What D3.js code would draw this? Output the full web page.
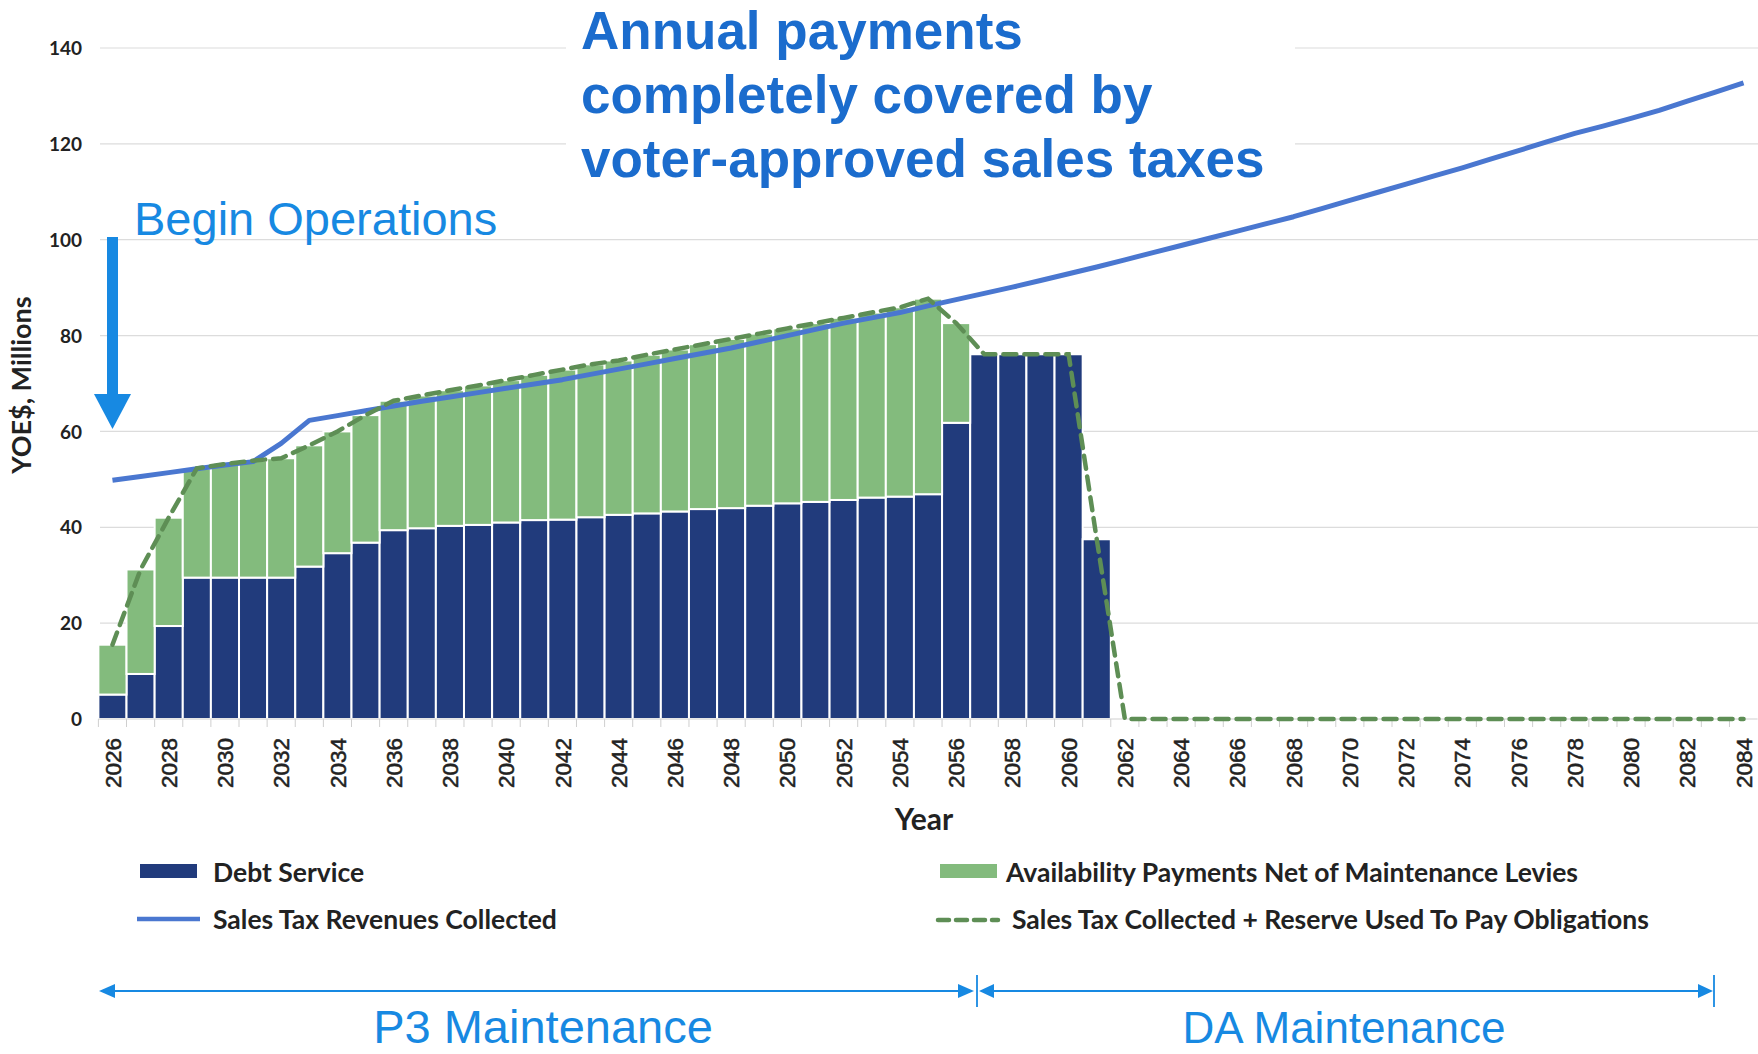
<!DOCTYPE html>
<html>
<head>
<meta charset="utf-8">
<script src="https://cdn.jsdelivr.net/npm/d3@7"></script>
<style>
  html, body { margin: 0; padding: 0; background: #ffffff; }
  svg { display: block; }
</style>
</head>
<body>
<svg id="chart" width="1758" height="1054"></svg>
<script>
// ---------- DATA ----------
const years = d3.range(2026, 2085).map(String);

const debtService = [
  5.1, 9.4, 19.4, 29.5, 29.5, 29.5, 29.5, 31.8, 34.6, 36.8,
  39.4, 39.8, 40.3, 40.5, 41.0, 41.5, 41.6, 42.1, 42.6, 42.9,
  43.3, 43.8, 44.0, 44.5, 45.0, 45.3, 45.7, 46.2, 46.4, 46.9,
  61.8, 76.1, 76.1, 76.1, 76.1, 37.5,
  0, 0, 0, 0, 0, 0, 0, 0, 0, 0, 0, 0, 0, 0, 0, 0, 0, 0, 0, 0, 0, 0, 0
];

const availabilityPayments = [
  10.4, 21.8, 22.6, 22.8, 23.7, 24.4, 24.9, 25.3, 25.4, 26.6,
  27.0, 27.7, 28.3, 29.1, 29.7, 30.3, 31.3, 31.9, 32.2, 33.1,
  33.8, 34.4, 35.3, 35.9, 36.5, 37.3, 38.0, 38.6, 39.5, 40.8,
  20.8, 0, 0, 0, 0, 0,
  0, 0, 0, 0, 0, 0, 0, 0, 0, 0, 0, 0, 0, 0, 0, 0, 0, 0, 0, 0, 0, 0, 0
];

const salesTaxRevenues = [
  49.8, 50.6, 51.4, 52.2, 53.0, 53.7, 57.5, 62.3, 63.3, 64.3,
  65.3, 66.3, 67.2, 68.1, 69.0, 69.9, 70.8, 71.9, 73.0, 74.1,
  75.2, 76.3, 77.4, 78.7, 80.0, 81.3, 82.6, 83.7, 84.8, 86.2,
  87.5, 88.8, 90.1, 91.5, 92.9, 94.3, 95.8, 97.3, 98.8, 100.3,
  101.8, 103.3, 104.8, 106.5, 108.2, 109.9, 111.6, 113.3, 115.0, 116.8,
  118.6, 120.4, 122.2, 123.7, 125.3, 127.0, 128.9, 130.8, 132.7
];

const taxPlusReserve = [
  15.5, 31.2, 42.0, 52.3, 53.2, 53.9, 54.4, 57.1, 60.0, 63.4,
  66.4, 67.5, 68.6, 69.6, 70.7, 71.8, 72.9, 74.0, 74.8, 76.0,
  77.1, 78.2, 79.3, 80.4, 81.5, 82.6, 83.7, 84.8, 85.9, 87.7,
  82.6, 76.1, 76.1, 76.1, 76.1, 37.5,
  0, 0, 0, 0, 0, 0, 0, 0, 0, 0, 0, 0, 0, 0, 0, 0, 0, 0, 0, 0, 0, 0, 0
];

const yTicks = [0, 20, 40, 60, 80, 100, 120, 140];
const xTickLabels = years.filter((d, i) => i % 2 === 0);

const titleLines = ["Annual payments", "completely covered by", "voter-approved sales taxes"];
const legendItems = [
  "Debt Service",
  "Availability Payments Net of Maintenance Levies",
  "Sales Tax Revenues Collected",
  "Sales Tax Collected + Reserve Used To Pay Obligations"
];

// ---------- STYLE ----------
const C = {
  debt: "#213b7c",
  avail: "#83bb7d",
  sales: "#4a77d0",
  dash: "#5e8e55",
  grid: "#dcdcdc",
  title: "#1b6ccd",
  annot: "#1789e2",
  text: "#222222"
};

const svg = d3.select("#chart");

const x = d3.scaleBand().domain(years).range([98.4, 1757.6]).padding(0);
const y = d3.scaleLinear().domain([0, 140]).range([719, 48]);

// gridlines
svg.append("g").selectAll("line")
  .data(yTicks.filter(d => d > 0))
  .join("line")
  .attr("x1", 100).attr("x2", 1758)
  .attr("y1", d => y(d)).attr("y2", d => y(d))
  .attr("stroke", C.grid).attr("stroke-width", 1.2);

// y tick labels
const yAxis = d3.axisLeft(y).tickValues(yTicks).tickSize(0).tickPadding(0);
const yg = svg.append("g").attr("transform", "translate(82,0)").call(yAxis);
yg.select(".domain").remove();
yg.selectAll("text")
  .attr("font-family", "Lato, 'Open Sans', sans-serif")
  .attr("font-weight", 700)
  .attr("font-size", 19)
  .attr("fill", C.text)
  .attr("dy", "0.35em");

// title white box (covers gridlines)
svg.append("rect").attr("x", 566).attr("y", 0).attr("width", 729).attr("height", 190).attr("fill", "#fff");

// stacked bars
const stackData = years.map((yr, i) => ({ year: yr, debt: debtService[i], avail: availabilityPayments[i] }));
const stack = d3.stack().keys(["debt", "avail"])(stackData);
const colors = { debt: C.debt, avail: C.avail };

svg.append("g").selectAll("g")
  .data(stack)
  .join("g")
  .attr("fill", d => colors[d.key])
  .selectAll("rect")
  .data(d => d.filter(p => p[1] - p[0] > 0))
  .join("rect")
  .attr("x", d => x(d.data.year))
  .attr("width", x.bandwidth())
  .attr("y", d => y(d[1]))
  .attr("height", d => y(d[0]) - y(d[1]))
  .attr("stroke", "#ffffff")
  .attr("stroke-width", 2);

// x baseline + boundary ticks
svg.append("line")
  .attr("x1", x.range()[0]).attr("x2", x.range()[1])
  .attr("y1", y(0)).attr("y2", y(0))
  .attr("stroke", "#cfcfcf").attr("stroke-width", 1.2);
svg.append("g").selectAll("line")
  .data(years)
  .join("line")
  .attr("x1", d => x(d)).attr("x2", d => x(d))
  .attr("y1", y(0)).attr("y2", y(0) + 8)
  .attr("stroke", "#cfcfcf").attr("stroke-width", 1);

// x labels
const xAxis = d3.axisBottom(x).tickValues(xTickLabels).tickSize(0).tickPadding(0);
const xg = svg.append("g").attr("transform", `translate(0,${y(0)})`).call(xAxis);
xg.select(".domain").remove();
xg.selectAll("text")
  .attr("font-family", "'Liberation Sans', Arial, sans-serif")
  .attr("font-size", 22.5)
  .attr("fill", C.text)
  .attr("stroke", C.text)
  .attr("stroke-width", 0.5)
  .attr("text-anchor", "end")
  .attr("transform", "rotate(-90)")
  .attr("x", -19)
  .attr("y", 0)
  .attr("dy", "0.36em");

// sales tax line
const lineGen = d3.line()
  .x((d, i) => x(years[i]) + x.bandwidth() / 2)
  .y(d => y(d));
svg.append("path")
  .datum(salesTaxRevenues)
  .attr("d", lineGen)
  .attr("fill", "none")
  .attr("stroke", C.sales)
  .attr("stroke-width", 5)
  .attr("stroke-linejoin", "round");

// dashed reserve line
svg.append("path")
  .datum(taxPlusReserve)
  .attr("d", lineGen)
  .attr("fill", "none")
  .attr("stroke", C.dash)
  .attr("stroke-width", 4.5)
  .attr("stroke-dasharray", "13,8")
  .attr("stroke-linecap", "round");

// axis titles
svg.append("text")
  .attr("transform", "translate(31,385) rotate(-90)")
  .attr("text-anchor", "middle")
  .attr("font-family", "Lato, sans-serif").attr("font-weight", 700)
  .attr("font-size", 27).attr("fill", C.text)
  .text("YOE$, Millions");

svg.append("text")
  .attr("x", 924).attr("y", 830)
  .attr("text-anchor", "middle")
  .attr("font-family", "Lato, sans-serif").attr("font-weight", 700)
  .attr("font-size", 30).attr("fill", C.text)
  .text("Year");

// title
svg.append("text")
  .attr("font-family", "'Liberation Sans', Arial, sans-serif")
  .attr("font-weight", 700).attr("font-size", 53).attr("fill", C.title)
  .selectAll("tspan").data(titleLines).join("tspan")
  .attr("x", 581).attr("y", (d, i) => 49 + i * 64)
  .text(d => d);

// Begin Operations annotation
svg.append("text")
  .attr("x", 134).attr("y", 235)
  .attr("font-family", "'Liberation Sans', Arial, sans-serif")
  .attr("font-size", 47).attr("fill", C.annot)
  .text("Begin Operations");
svg.append("rect").attr("x", 107).attr("y", 237).attr("width", 11).attr("height", 160).attr("fill", C.annot);
svg.append("path").attr("d", "M94,394 L131,394 L112.5,429 Z").attr("fill", C.annot);

// legend
const lg = svg.append("g").attr("font-family", "Lato, sans-serif").attr("font-weight", 700)
  .attr("font-size", 26.5).attr("fill", C.text);
lg.append("rect").attr("x", 140).attr("y", 864).attr("width", 57).attr("height", 14).attr("fill", C.debt);
lg.append("text").attr("x", 213).attr("y", 882).text(legendItems[0]);
lg.append("rect").attr("x", 940).attr("y", 864).attr("width", 57).attr("height", 14).attr("fill", C.avail);
lg.append("text").attr("x", 1006).attr("y", 882).text(legendItems[1]);
lg.append("line").attr("x1", 137).attr("x2", 200).attr("y1", 919).attr("y2", 919)
  .attr("stroke", C.sales).attr("stroke-width", 4.5);
lg.append("text").attr("x", 213).attr("y", 929).text(legendItems[2]);
lg.append("line").attr("x1", 938).attr("x2", 998).attr("y1", 920).attr("y2", 920)
  .attr("stroke", C.dash).attr("stroke-width", 4.5).attr("stroke-dasharray", "11,7").attr("stroke-linecap", "round");
lg.append("text").attr("x", 1012).attr("y", 929).text(legendItems[3]);

// bottom phase arrows
const ay = 991;
const ag = svg.append("g").attr("fill", C.annot);
ag.append("line").attr("x1", 110).attr("x2", 962).attr("y1", ay).attr("y2", ay).attr("stroke", C.annot).attr("stroke-width", 2.2);
ag.append("path").attr("d", `M99,${ay} L115,${ay - 7} L115,${ay + 7} Z`);
ag.append("path").attr("d", `M974,${ay} L958,${ay - 7} L958,${ay + 7} Z`);
ag.append("line").attr("x1", 977).attr("x2", 977).attr("y1", 975).attr("y2", 1007).attr("stroke", C.annot).attr("stroke-width", 1.8);
ag.append("line").attr("x1", 990).attr("x2", 1700).attr("y1", ay).attr("y2", ay).attr("stroke", C.annot).attr("stroke-width", 2.2);
ag.append("path").attr("d", `M979,${ay} L994,${ay - 7} L994,${ay + 7} Z`);
ag.append("path").attr("d", `M1713,${ay} L1698,${ay - 7} L1698,${ay + 7} Z`);
ag.append("line").attr("x1", 1714).attr("x2", 1714).attr("y1", 975).attr("y2", 1007).attr("stroke", C.annot).attr("stroke-width", 1.8);

svg.append("text").attr("x", 543).attr("y", 1043).attr("text-anchor", "middle")
  .attr("font-family", "'Liberation Sans', Arial, sans-serif").attr("font-size", 47).attr("fill", C.annot)
  .text("P3 Maintenance");
svg.append("text").attr("x", 1344).attr("y", 1043).attr("text-anchor", "middle")
  .attr("font-family", "'Liberation Sans', Arial, sans-serif").attr("font-size", 44).attr("fill", C.annot)
  .text("DA Maintenance");
</script>
</body>
</html>
